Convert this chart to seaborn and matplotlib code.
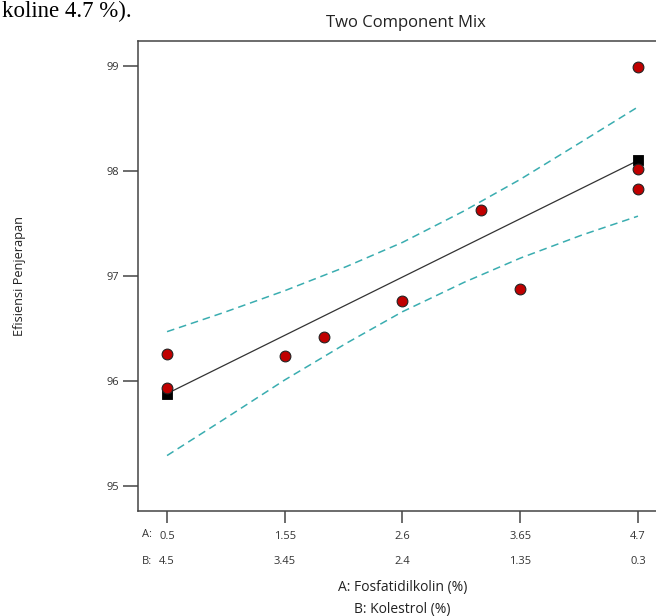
import matplotlib
matplotlib.use("Agg")
import matplotlib.pyplot as plt
import seaborn as sns

# ---------------- data ----------------
obs_a = [0.5, 0.5, 1.55, 1.9, 2.6, 3.3, 3.65, 4.7, 4.7, 4.7]
obs_y = [96.26, 95.93, 96.24, 96.42, 96.76, 97.63, 96.88, 98.99, 98.02, 97.83]
design_a = [0.5, 4.7]
design_pred = [95.88, 98.10]
band_a = [0.5, 1.0, 1.55, 2.1, 2.6, 3.15, 3.65, 4.2, 4.7]
band_upper = [96.47, 96.65, 96.86, 97.09, 97.32, 97.62, 97.92, 98.28, 98.61]
band_lower = [95.29, 95.63, 96.01, 96.36, 96.66, 96.94, 97.17, 97.39, 97.57]
tick_a = [0.5, 1.55, 2.6, 3.65, 4.7]
tick_a_labels = ["0.5", "1.55", "2.6", "3.65", "4.7"]
tick_b_labels = ["4.5", "3.45", "2.4", "1.35", "0.3"]
y_ticks = [95, 96, 97, 98, 99]

sns.set_style("white")
plt.rcParams["font.family"] = ["Open Sans", "DejaVu Sans"]

W, H = 656, 616
fig = plt.figure(figsize=(W / 100, H / 100), dpi=100)
ax = fig.add_axes([138 / W, 105 / H, 518 / W, 470 / H])

teal = "#3aadb0"
dash = (0, (5.0, 3.2))
sns.lineplot(x=band_a, y=band_upper, ax=ax, color=teal, lw=1.1,
             linestyle=dash, zorder=2)
sns.lineplot(x=band_a, y=band_lower, ax=ax, color=teal, lw=1.1,
             linestyle=dash, zorder=2)
sns.lineplot(x=design_a, y=design_pred, ax=ax, color="#333333", lw=0.9,
             zorder=3)
sns.scatterplot(x=design_a, y=design_pred, ax=ax, marker="s", color="black",
                edgecolor="black", s=58, zorder=4)
sns.scatterplot(x=obs_a, y=obs_y, ax=ax, color="#c00000", edgecolor="#222222",
                linewidth=0.8, s=60, zorder=5)

ax.set_xlim(0.241, 4.861)
ax.set_ylim(94.762, 99.238)

spine_c = "#444444"
ax.spines["right"].set_visible(False)
for s in ["left", "top", "bottom"]:
    ax.spines[s].set_color(spine_c)
    ax.spines[s].set_linewidth(1.1)

ax.set_xticks(tick_a)
ax.set_xticklabels([f"{a}\n{b}" for a, b in zip(tick_a_labels, tick_b_labels)],
                   linespacing=2.7)
ax.set_yticks(y_ticks)
ax.set_yticklabels([str(v) for v in y_ticks])
ax.tick_params(axis="x", direction="out", length=8.6, width=1.1, color=spine_c,
               labelsize=8, labelcolor="#333333", pad=6, bottom=True)
ax.tick_params(axis="y", direction="out", length=10.8, width=1.1, color=spine_c,
               labelsize=8, labelcolor="#333333", pad=3, left=True)

# row prefixes for the first tick
ax.annotate("A:", xy=(tick_a[0], 0), xycoords=("data", "axes fraction"),
            xytext=(-11, -16.6), textcoords="offset points", ha="right",
            va="center", fontsize=8, color="#333333")
ax.annotate("B:", xy=(tick_a[0], 0), xycoords=("data", "axes fraction"),
            xytext=(-11, -36.0), textcoords="offset points", ha="right",
            va="center", fontsize=8, color="#333333")

ax.set_xlabel("A: Fosfatidilkolin (%)\nB: Kolestrol (%)", fontsize=10,
              color="#222222", linespacing=1.7)
ax.xaxis.set_label_coords((2.6 - 0.241) / 4.62, -0.146)
ax.set_ylabel("Efisiensi Penjerapan", fontsize=9.2, color="#222222")
ax.yaxis.set_label_coords(-0.217, 0.5)
ax.set_title("Two Component Mix", fontsize=12, color="#222222",
             x=0.517, pad=10)

# document text fragment at the top-left
fig.text(2 / W, 1 - 17 / H, "koline 4.7 %).", ha="left", va="baseline",
         fontsize=16.5, family=["Liberation Serif", "DejaVu Serif"],
         color="black")

fig.savefig("out.png", dpi=100)
